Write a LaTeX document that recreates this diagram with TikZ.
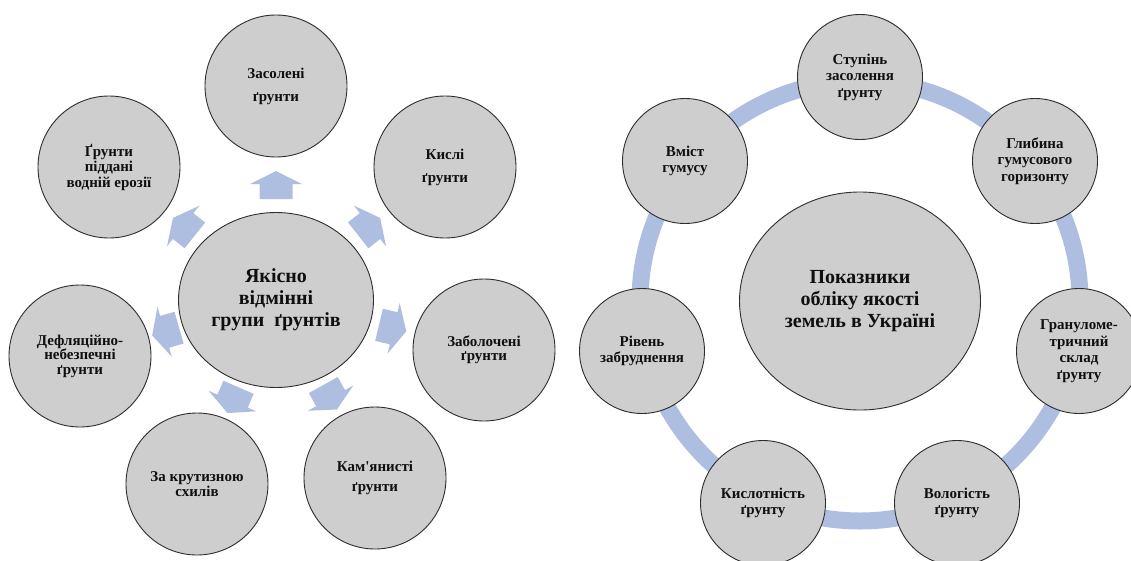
\documentclass[tikz,border=0pt]{standalone}
\usepackage{fontspec}
\setmainfont{Liberation Serif}
\usetikzlibrary{shapes.geometric,calc}
\definecolor{satfill}{RGB}{206,206,206}
\definecolor{edgec}{RGB}{45,45,45}
\definecolor{ringc}{RGB}{174,190,224}
\definecolor{txtc}{RGB}{15,15,15}
\tikzset{
  sat/.style={circle, draw=edgec, line width=0.9pt, fill=satfill, inner sep=0pt,
    text=txtc, align=center, font=\bfseries\fontsize{15}{16.5}\selectfont},
  lsat/.style={sat, minimum size=142pt},
  rsat/.style={sat, minimum size=125pt},
  hub/.style={ellipse, draw=edgec, line width=0.9pt, fill=satfill, inner sep=0pt,
    align=center, text=txtc, font=\bfseries\fontsize{20}{22}\selectfont},
  ls/.style={font=\bfseries\fontsize{15}{#1}\selectfont},
  pics/blockarr/.style={code={
    \fill[ringc] (-14,-16.5) -- (1,-16.5) -- (1,-26) -- (14,0) -- (1,26) -- (1,16.5) -- (-14,16.5) -- cycle;}},
}
\begin{document}
\begin{tikzpicture}[x=1pt,y=-1pt]
\useasboundingbox (0,0) rectangle (1131,560);
\fill[white] (0,0) rectangle (1131,560);

% ---------- left diagram ----------
\coordinate (Lc) at (276,300);
\coordinate (Lp1) at (276,86);
\coordinate (Lp2) at (445,167);
\coordinate (Lp3) at (484,350);
\coordinate (Lp4) at (375,478);
\coordinate (Lp5) at (197,484);
\coordinate (Lp6) at (80,356);
\coordinate (Lp7) at (109,167);

\path ($(Lc)!115pt!(Lp1)$) pic[rotate=90]{blockarr};
\path ($(Lc)!118.6pt!(Lp2)$) pic[rotate=38.2]{blockarr};
\path ($(Lc)!120pt!(Lp3)$) pic[rotate=-13.5]{blockarr};
\path ($(Lc)!111.3pt!(Lp4)$) pic[rotate=-60.9]{blockarr};
\path ($(Lc)!109pt!(Lp5)$) pic[rotate=-113.2]{blockarr};
\path ($(Lc)!114.8pt!(Lp6)$) pic[rotate=-164]{blockarr};
\path ($(Lc)!117.7pt!(Lp7)$) pic[rotate=141.5]{blockarr};

\node[hub, minimum width=195pt, minimum height=175pt] (L0) at (Lc) {Якісно\\відмінні\\групи\hspace{5pt} ґрунтів};
\node[lsat, ls=23] (L1) at (Lp1) {Засолені\\ґрунти};
\node[lsat, ls=23] (L2) at (Lp2) {Кислі\\ґрунти};
\node[lsat, ls=14] (L3) at (Lp3) {Заболочені\\ґрунти};
\node[lsat, ls=20] (L4) at (Lp4) {Кам\textquotesingle янисті\\ґрунти};
\node[lsat, ls=15] (L5) at (Lp5) {За крутизною\\схилів};
\node[lsat, ls=14.5] (L6) at (Lp6) {Дефляційно-\\небезпечні\\ґрунти};
\node[lsat, ls=15.5] (L7) at (Lp7) {Ґрунти\\піддані\\водній ерозії};

% ---------- right diagram ----------
\coordinate (Rc) at (860,301);
\draw[ringc, line width=17pt] (Rc) circle[radius=220pt];
\node[hub, minimum width=241pt, minimum height=218pt] (R0) at (Rc) {Показники\\обліку якості\\земель в Україні};
\node[rsat] (R1) at (860,77) {Ступінь\\засолення\\ґрунту};
\node[rsat] (R2) at (1035,161) {Глибина\\гумусового\\горизонту};
\node[rsat] (R3) at (1079,351) {Грануломе-\\тричний\\склад\\ґрунту};
\node[rsat] (R4) at (957,503) {Вологість\\ґрунту};
\node[rsat] (R5) at (763,503) {Кислотність\\ґрунту};
\node[rsat] (R6) at (642,351) {Рівень\\забруднення};
\node[rsat] (R7) at (685,161) {Вміст\\гумусу};
\end{tikzpicture}
\end{document}
